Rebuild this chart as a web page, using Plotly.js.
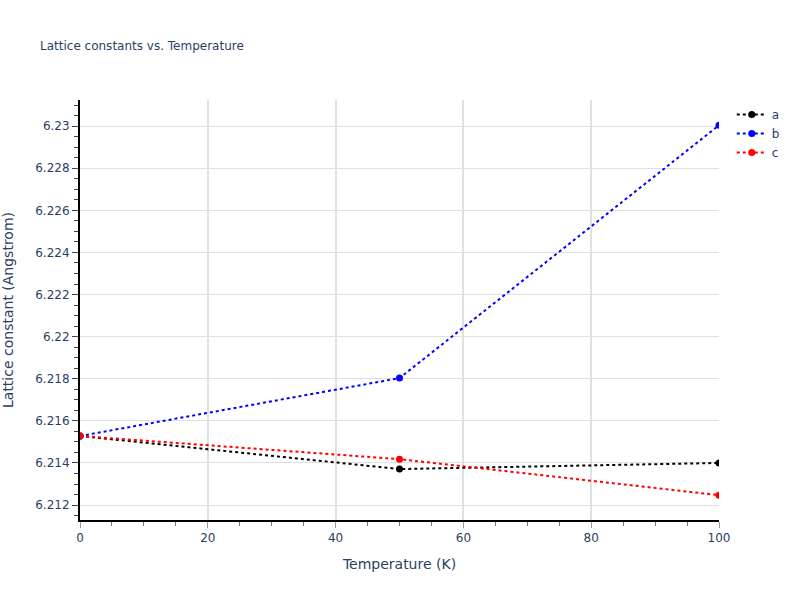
<!DOCTYPE html>
<html>
<head>
<meta charset="utf-8">
<script src="https://cdn.plot.ly/plotly-3.0.1.min.js"></script>
<style>body{margin:0;padding:0;}#chart{width:800px;height:600px;}</style>
</head>
<body>
<div id="chart"></div>
<script>
var temperature = [0, 50, 100];
var aValues = [6.21528, 6.21371, 6.21400];
var bValues = [6.21528, 6.21803, 6.23004];
var cValues = [6.21528, 6.21418, 6.21247];

function series(name, y, color) {
  return {
    x: temperature, y: y, name: name, type: 'scatter', mode: 'lines+markers',
    line: {color: color, dash: 'dot', width: 2},
    marker: {color: color, size: 7}
  };
}

var data = [series('a', aValues, 'black'), series('b', bValues, 'blue'), series('c', cValues, 'red')];

var layout = {
  width: 800, height: 600,
  paper_bgcolor: 'white', plot_bgcolor: 'white',
  margin: {l: 80, r: 81, t: 100, b: 80},
  title: {text: 'Lattice constants vs. Temperature', x: 0.05, xanchor: 'left', y: 0.93, font: {size: 12, color: '#2a3f5f'}},
  font: {family: '"DejaVu Sans", verdana, sans-serif', color: '#2a3f5f', size: 12},
  xaxis: {
    title: {text: 'Temperature (K)', font: {size: 14}, standoff: 15},
    range: [0, 100], dtick: 20, showgrid: true, gridcolor: '#e0e0e0', gridwidth: 2,
    showline: true, linecolor: 'black', linewidth: 2, ticks: 'outside', tickcolor: '#999', ticklen: 6,
    minor: {dtick: 5, ticks: 'outside', ticklen: 4, tickcolor: '#777', showgrid: false},
    zeroline: false
  },
  yaxis: {
    title: {text: 'Lattice constant (Angstrom)', font: {size: 14}, standoff: 20},
    range: [6.21129, 6.23124], dtick: 0.002, tick0: 6.212, showgrid: true, gridcolor: '#e0e0e0', gridwidth: 1,
    showline: true, linecolor: 'black', linewidth: 2, ticks: 'outside', tickcolor: '#444', ticklen: 6,
    minor: {dtick: 0.0005, ticks: 'outside', ticklen: 4, tickcolor: '#444', showgrid: false},
    zeroline: false
  },
  legend: {x: 1.02, y: 1, xanchor: 'left', yanchor: 'top', font: {size: 12}}
};

Plotly.newPlot('chart', data, layout, {displayModeBar: false});
</script>
</body>
</html>
